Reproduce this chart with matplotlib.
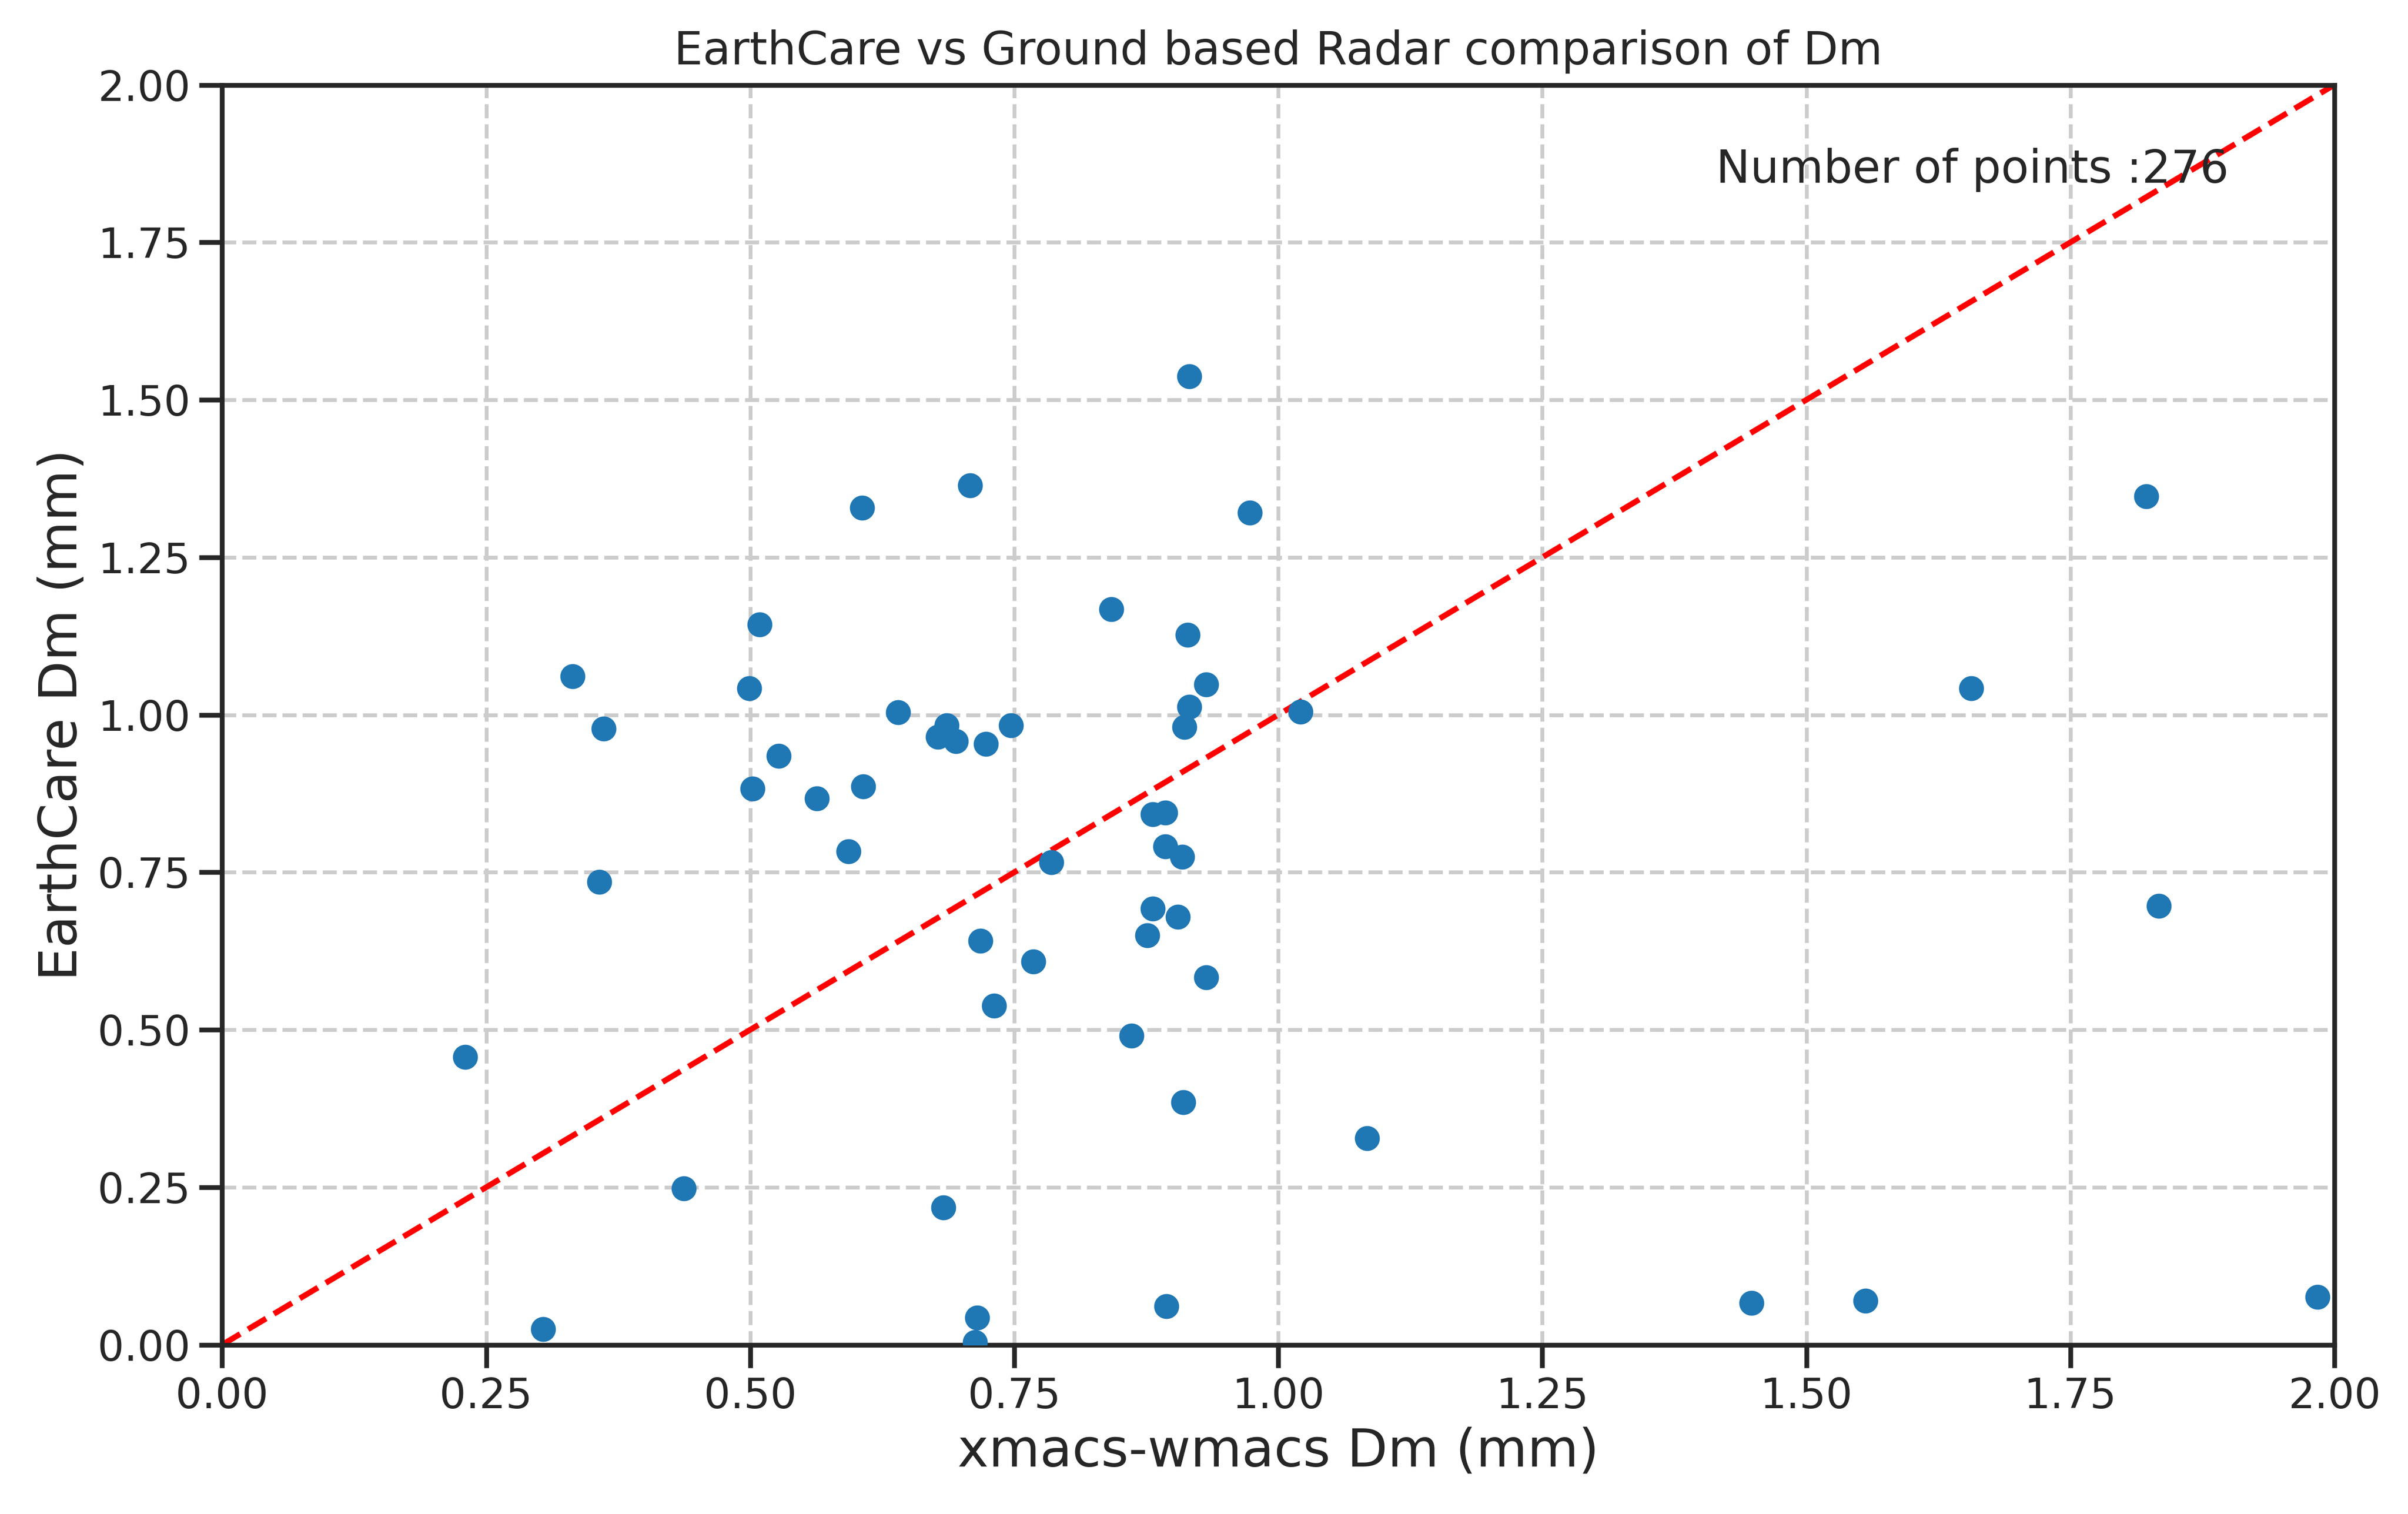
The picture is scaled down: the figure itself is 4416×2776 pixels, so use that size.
import matplotlib
matplotlib.use("Agg")
import matplotlib.pyplot as plt
import seaborn as sns
import numpy as np

# ---- data ----
xmacs_dm = [0.230, 0.332, 0.361, 0.357, 0.304, 0.437,
            0.499, 0.509, 0.502, 0.527, 0.563, 0.593, 0.606, 0.607,
            0.640, 0.678, 0.686, 0.695, 0.708, 0.723, 0.747,
            0.683, 0.715, 0.713, 0.718, 0.731, 0.768, 0.785,
            0.842, 0.861, 0.876, 0.881, 0.881, 0.893, 0.893, 0.909,
            0.905, 0.910, 0.894, 0.916, 0.914, 0.916, 0.911, 0.932,
            0.932, 0.973, 1.021, 1.084,
            1.448, 1.556, 1.656, 1.822, 1.834, 1.984]
earthcare_dm = [0.457, 1.061, 0.978, 0.735, 0.025, 0.248,
                1.042, 1.143, 0.883, 0.935, 0.867, 0.783, 1.329, 0.886,
                1.004, 0.965, 0.983, 0.958, 1.364, 0.954, 0.983,
                0.218, 0.043, 0.004, 0.641, 0.538, 0.608, 0.766,
                1.168, 0.491, 0.650, 0.692, 0.842, 0.845, 0.791, 0.775,
                0.679, 0.385, 0.061, 1.537, 1.127, 1.013, 0.981, 1.048,
                0.583, 1.321, 1.005, 0.328,
                0.066, 0.070, 1.042, 1.347, 0.697, 0.076]
n_points = 276
one_to_one = [0, 2]

title = "EarthCare vs Ground based Radar comparison of Dm"
xlabel = "xmacs-wmacs Dm (mm)"
ylabel = "EarthCare Dm (mm)"

# ---- style ----
sns.set_theme(style="ticks", context="talk")
plt.rcParams["font.family"] = ["DejaVu Sans"]

DPI = 334
W, H = 4416, 2776
fig = plt.figure(figsize=(W / DPI, H / DPI), dpi=DPI)
left, right, bottom, top = 407.3, 4281.0, 2465.7, 155.6
ax = fig.add_axes([left / W, (H - bottom) / H, (right - left) / W, (bottom - top) / H])

ax.scatter(xmacs_dm, earthcare_dm, color="#1f77b4", s=70, zorder=3)
ax.plot(one_to_one, one_to_one, linestyle="--", color="#ff0000", lw=2.25, zorder=2)

ax.set_xlim(0, 2)
ax.set_ylim(0, 2)
ax.set_xticks(np.arange(0, 2.01, 0.25))
ax.set_yticks(np.arange(0, 2.01, 0.25))
ax.xaxis.set_major_formatter(matplotlib.ticker.FormatStrFormatter("%.2f"))
ax.yaxis.set_major_formatter(matplotlib.ticker.FormatStrFormatter("%.2f"))
ax.grid(True, linestyle="--")

ax.set_title(title, fontsize=18, pad=8)
ax.set_xlabel(xlabel, fontsize=20.8)
ax.set_ylabel(ylabel, fontsize=20.8)
ax.text(0.95, 0.95, f"Number of points :{n_points}", transform=ax.transAxes,
        ha="right", va="top", fontsize=18)

fig.savefig("out.png", dpi=DPI)
